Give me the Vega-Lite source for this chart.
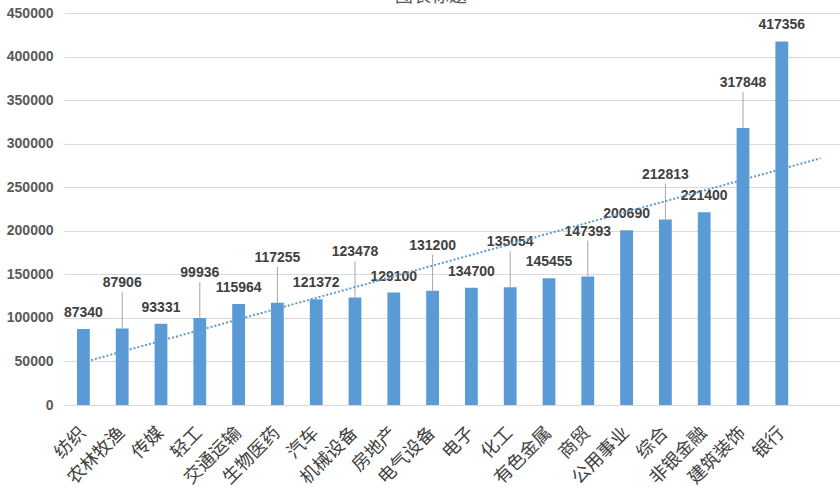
{
  "$schema": "https://vega.github.io/schema/vega-lite/v6.json",
  "autosize": "none",
  "padding": {"left": 64, "top": 13, "right": 0, "bottom": 96},
  "width": 776,
  "height": 392,
  "background": "white",
  "title": {
    "text": "图表标题",
    "fontSize": 18,
    "fontWeight": "normal",
    "color": "#595959",
    "font": "Noto Sans CJK SC",
    "offset": 0,
    "dx": -21
  },
  "data": {
    "values": [
      {"name": "纺织", "value": 87340},
      {"name": "农林牧渔", "value": 87906},
      {"name": "传媒", "value": 93331},
      {"name": "轻工", "value": 99936},
      {"name": "交通运输", "value": 115964},
      {"name": "生物医药", "value": 117255},
      {"name": "汽车", "value": 121372},
      {"name": "机械设备", "value": 123478},
      {"name": "房地产", "value": 129100},
      {"name": "电气设备", "value": 131200},
      {"name": "电子", "value": 134700},
      {"name": "化工", "value": 135054},
      {"name": "有色金属", "value": 145455},
      {"name": "商贸", "value": 147393},
      {"name": "公用事业", "value": 200690},
      {"name": "综合", "value": 212813},
      {"name": "非银金融", "value": 221400},
      {"name": "建筑装饰", "value": 317848},
      {"name": "银行", "value": 417356}
    ]
  },
  "config": {
    "view": {"stroke": null},
    "axis": {"domain": false, "ticks": false}
  },
  "resolve": {"scale": {"x": "independent"}},
  "layer": [
    {
      "encoding": {
        "x": {
          "field": "name",
          "type": "nominal",
          "sort": null,
          "scale": {
            "domain": ["纺织", "农林牧渔", "传媒", "轻工", "交通运输", "生物医药", "汽车", "机械设备", "房地产", "电气设备", "电子", "化工", "有色金属", "商贸", "公用事业", "综合", "非银金融", "建筑装饰", "银行", " "],
            "paddingInner": 0.67,
            "paddingOuter": 0.335
          },
          "axis": {
            "title": null,
            "labelAngle": -45,
            "labelAlign": "right",
            "labelBaseline": "middle",
            "labelFontSize": 18,
            "labelFont": "Noto Sans CJK SC",
            "labelColor": "#404040",
            "labelPadding": 25,
            "labelOverlap": false,
            "grid": false,
            "domain": true,
            "domainColor": "#D9D9D9",
            "domainWidth": 1
          }
        },
        "y": {
          "field": "value",
          "type": "quantitative",
          "scale": {"domain": [0, 450000], "nice": false},
          "axis": {
            "title": null,
            "values": [0, 50000, 100000, 150000, 200000, 250000, 300000, 350000, 400000, 450000],
            "format": "d",
            "labelOverlap": false,
            "labelFontSize": 14,
            "labelFontWeight": "bold",
            "labelFont": "Liberation Sans",
            "labelColor": "#595959",
            "labelPadding": 11,
            "gridColor": "#D9D9D9",
            "gridWidth": 1
          }
        }
      },
      "layer": [
        {"mark": {"type": "bar", "color": "#5B9BD5"}},
        {
          "transform": [
            {"window": [{"op": "row_number", "as": "i"}]},
            {"filter": "datum.i % 2 == 0"}
          ],
          "mark": {"type": "rule", "color": "#A6A6A6", "strokeWidth": 1, "y2Offset": -36},
          "encoding": {"y2": {"field": "value"}}
        },
        {
          "transform": [
            {"window": [{"op": "row_number", "as": "i"}]},
            {"filter": "datum.i % 2 == 1"}
          ],
          "mark": {
            "type": "text",
            "baseline": "bottom",
            "dy": -9,
            "fontSize": 14,
            "fontWeight": "bold",
            "font": "Liberation Sans",
            "color": "#404040"
          },
          "encoding": {"text": {"field": "value", "type": "quantitative", "format": "d"}}
        },
        {
          "transform": [
            {"window": [{"op": "row_number", "as": "i"}]},
            {"filter": "datum.i % 2 == 0"}
          ],
          "mark": {
            "type": "text",
            "baseline": "bottom",
            "dy": -38,
            "fontSize": 14,
            "fontWeight": "bold",
            "font": "Liberation Sans",
            "color": "#404040"
          },
          "encoding": {"text": {"field": "value", "type": "quantitative", "format": "d"}}
        }
      ]
    },
    {
      "transform": [
        {"window": [{"op": "row_number", "as": "i"}]},
        {"regression": "value", "on": "i", "extent": [1, 20]}
      ],
      "mark": {
        "type": "line",
        "color": "#5B9BD5",
        "strokeWidth": 2,
        "strokeDash": [2, 2]
      },
      "encoding": {
        "x": {"field": "i", "type": "quantitative", "scale": {"domain": [0.5, 20.5], "nice": false, "zero": false}, "axis": null},
        "y": {"field": "value", "type": "quantitative"}
      }
    }
  ]
}
